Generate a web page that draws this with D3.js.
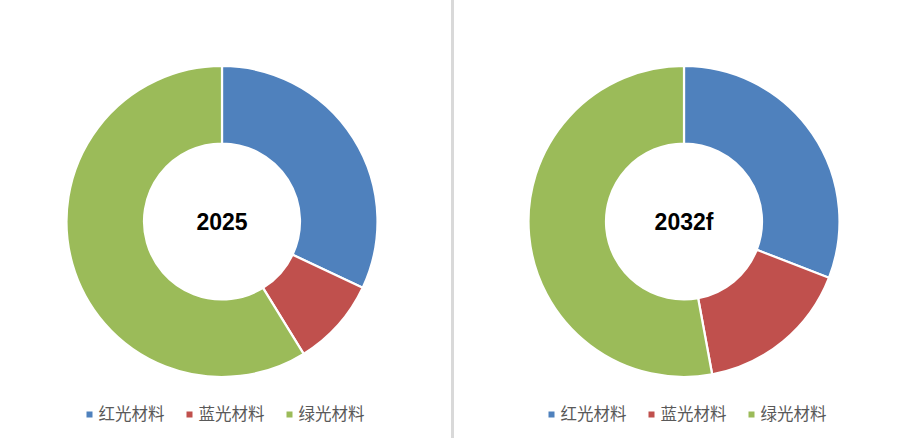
<!DOCTYPE html>
<html><head><meta charset="utf-8">
<script src="https://cdn.jsdelivr.net/npm/d3@7"></script>
<style>html,body{margin:0;padding:0;background:#fff;}</style>
</head><body>
<script>
const categories = ["红光材料", "蓝光材料", "绿光材料"];
const years = ["2025", "2032f"];
const values2025 = [32, 9.2, 58.8];
const values2032 = [30.9, 16.2, 52.9];
const colors = ["#4F81BD", "#C0504D", "#9BBB59"];

const W = 904, H = 438;
const svg = d3.select("body").append("svg").attr("width", W).attr("height", H);

// divider
svg.append("rect").attr("x", 451).attr("y", 0).attr("width", 3).attr("height", H).attr("fill", "#d9d9d9");

const panels = [
  {title: years[0], values: values2025, cx: 222},
  {title: years[1], values: values2032, cx: 684}
];
const cy = 221.5, rOuter = 155.5, rInner = 78;
const pie = d3.pie().sort(null).value(d => d);
const arc = d3.arc().innerRadius(rInner).outerRadius(rOuter);

panels.forEach(p => {
  const g = svg.append("g").attr("transform", `translate(${p.cx},${cy})`);
  g.selectAll("path").data(pie(p.values)).join("path")
    .attr("d", arc)
    .attr("fill", (d, i) => colors[i])
    .attr("stroke", "#fff").attr("stroke-width", 2.2);
  g.append("text").text(p.title)
    .attr("text-anchor", "middle").attr("dy", "0.36em")
    .attr("font-family", "'Liberation Sans', Arial, sans-serif")
    .attr("font-weight", "bold").attr("font-size", 23).attr("fill", "#000");

  const legendX = d3.scalePoint().domain(categories).range([p.cx - 135.5, p.cx + 64.5]);
  const lg = svg.append("g");
  categories.forEach((c, i) => {
    const x = legendX(c);
    lg.append("rect").attr("x", x).attr("y", 411.5).attr("width", 6).attr("height", 6).attr("fill", colors[i]);
    lg.append("text").text(c).attr("x", x + 12).attr("y", 414.5).attr("dy", "0.35em")
      .attr("font-family", "'Noto Sans CJK SC', sans-serif").attr("font-size", 16.5).attr("fill", "#595959");
  });
});
</script>
</body></html>
